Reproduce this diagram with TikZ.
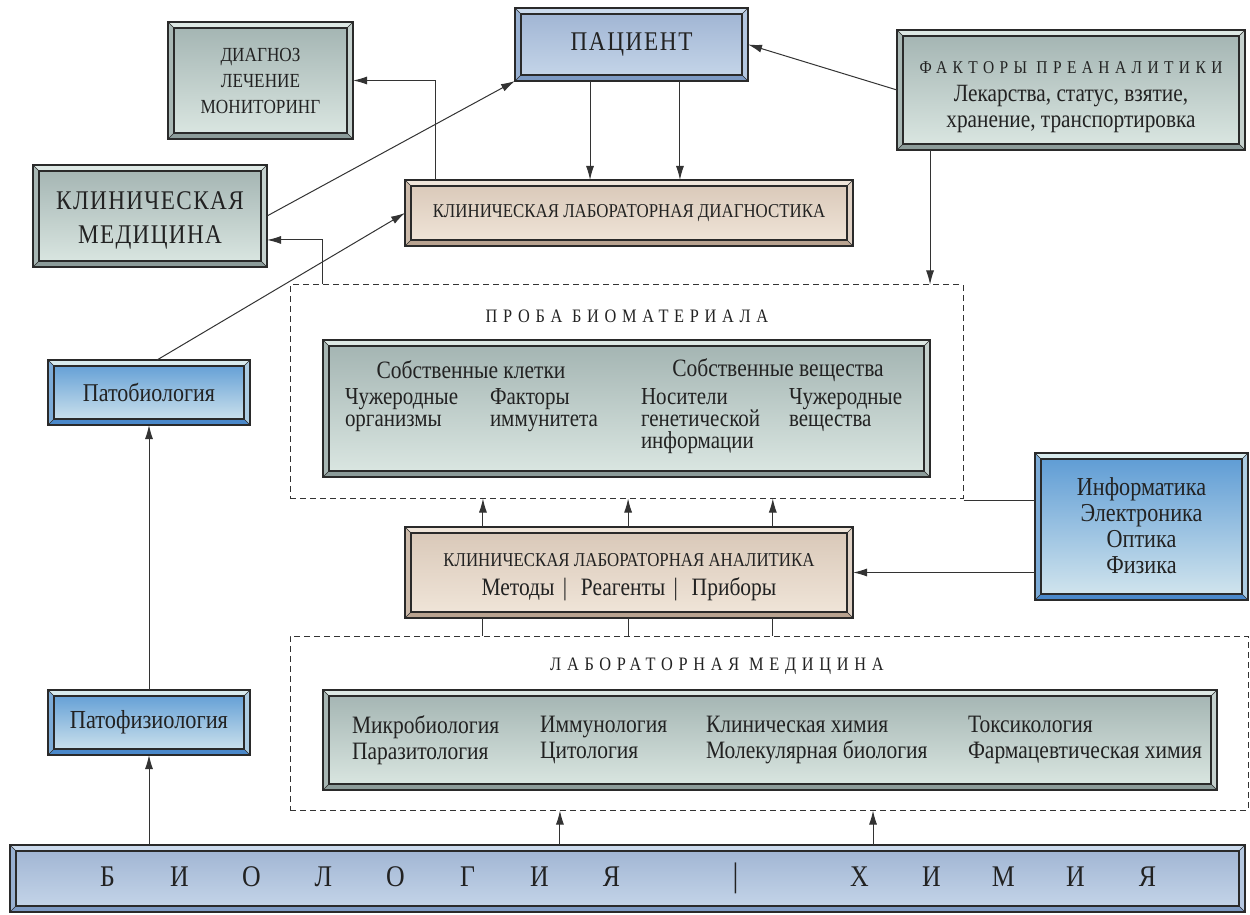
\documentclass[tikz,border=0pt]{standalone}
\usepackage{fontspec}
\setmainfont{Liberation Serif}[FakeStretch=0.86]
\usetikzlibrary{arrows.meta,calc,fit}

\definecolor{txt}{HTML}{222222}
\definecolor{ln}{HTML}{333333}
\definecolor{edge}{HTML}{2A2A2A}
% green theme
\definecolor{grT}{HTML}{A2B3B1}
\definecolor{grB}{HTML}{DCE8E3}
\definecolor{grL}{HTML}{DDE8E4}
\definecolor{grD}{HTML}{8C9C9A}
% blue theme
\definecolor{blT}{HTML}{5B9AD4}
\definecolor{blB}{HTML}{D5E7EE}
\definecolor{blL}{HTML}{D8EBEE}
\definecolor{blD}{HTML}{4A88CA}
% patient / base theme
\definecolor{paT}{HTML}{9EB3D2}
\definecolor{paB}{HTML}{C7D7EA}
\definecolor{paL}{HTML}{CBDAEC}
\definecolor{paD}{HTML}{7D9AC3}
% brown theme
\definecolor{brT}{HTML}{D8C7B7}
\definecolor{brB}{HTML}{F1E6DA}
\definecolor{brL}{HTML}{EFE5DA}
\definecolor{brD}{HTML}{B9A390}

\def\bw{6}
\newcommand\bbox[5][]{%
  \node[bx, fit={#4 #5}, top color=#3T, bottom color=#3B] (#2) {};
  \fill[#3L] (#2.north west) -- (#2.north east) -- ([shift={(-\bw,\bw)}]#2.north east) -- ([shift={(\bw,\bw)}]#2.north west) -- cycle;
  \fill[#3L!70!#3D] (#2.north east) -- (#2.south east) -- ([shift={(-\bw,-\bw)}]#2.south east) -- ([shift={(-\bw,\bw)}]#2.north east) -- cycle;
  \fill[#3L!35!#3D] (#2.north west) -- (#2.south west) -- ([shift={(\bw,-\bw)}]#2.south west) -- ([shift={(\bw,\bw)}]#2.north west) -- cycle;
  \fill[#3D] (#2.south west) -- (#2.south east) -- ([shift={(-\bw,-\bw)}]#2.south east) -- ([shift={(\bw,-\bw)}]#2.south west) -- cycle;
  \draw[edgeline] (#2.north west) rectangle (#2.south east);
  \draw[edgeline] ([shift={(\bw,\bw)}]#2.north west) rectangle ([shift={(-\bw,-\bw)}]#2.south east);
  \draw[edgeline, line width=0.3pt] (#2.north west) -- ([shift={(\bw,\bw)}]#2.north west)
     (#2.north east) -- ([shift={(-\bw,\bw)}]#2.north east)
     (#2.south west) -- ([shift={(\bw,-\bw)}]#2.south west)
     (#2.south east) -- ([shift={(-\bw,-\bw)}]#2.south east);
}
\newcommand\sletter[1]{\makebox[36pt]{#1}}
\newcommand\fs[2]{\fontsize{#1}{#2}\selectfont}

\tikzset{
  bx/.style={inner sep=0pt, outer sep=0pt, align=center, text=txt},
  edgeline/.style={draw=edge, line width=0.6pt},
  lbl/.style={inner sep=0pt, outer sep=0pt, text=txt},
  arr/.style={draw=ln, line width=0.5pt, -{Latex[length=7pt,width=4pt]}},
  plain/.style={draw=ln, line width=0.5pt},
  dbox/.style={draw=ln, line width=0.5pt, dash pattern=on 3pt off 2pt},
  title/.style={lbl, font=\fs{9.5}{11}\addfontfeatures{LetterSpace=30}},
  inner/.style={lbl, anchor=north west, align=left, font=\fs{12.2}{11}},
  labtxt/.style={lbl, anchor=north west, align=left, font=\fs{12.5}{13}},
}

\begin{document}
\begin{tikzpicture}[x=0.5pt, y=-0.5pt]
\useasboundingbox (0,0) rectangle (1250,915);

% dashed containers
\node[dbox, fit={(290,285) (963,498)}, inner sep=0pt] (probe) {};
\node[dbox, fit={(290,636) (1248,810)}, inner sep=0pt] (labmed) {};

\node[title] (probet) at (627,316) {ПРОБА БИОМАТЕРИАЛА};
\node[title] (labmedt) at (717,666) {ЛАБОРАТОРНАЯ МЕДИЦИНА};

% boxes
\bbox{pat}{pa}{(515,8)}{(748,81)}
\node[bx, font=\fs{13.5}{16}\addfontfeatures{LetterSpace=6}] (pat-t) at (pat.center) {ПАЦИЕНТ};
\bbox{diag}{gr}{(168,22)}{(353,139)}
\node[bx, font=\fs{10}{13}] (diag-t) at (diag.center) {ДИАГНОЗ\\ЛЕЧЕНИЕ\\МОНИТОРИНГ};
\bbox{fact}{gr}{(897,30)}{(1245,150)}
\node[bx, font=\fs{12.4}{13}] (fact-t) at ([yshift=-3.5pt]fact.center) {{\fs{9}{14}\addfontfeatures{LetterSpace=30}ФАКТОРЫ ПРЕАНАЛИТИКИ}\\[1pt]Лекарства, статус, взятие,\\хранение, транспортировка};
\bbox{klmed}{gr}{(33,165)}{(267,267)}
\node[bx, font=\fs{13.5}{17}\addfontfeatures{LetterSpace=5}] (klmed-t) at ([yshift=-2pt]klmed.center) {КЛИНИЧЕСКАЯ\\МЕДИЦИНА};
\bbox{kld}{br}{(405,180)}{(853,246)}
\node[bx, font=\fs{9.8}{11}] (kld-t) at (kld.center) {КЛИНИЧЕСКАЯ ЛАБОРАТОРНАЯ ДИАГНОСТИКА};
\bbox{probein}{gr}{(323,340)}{(930,477)}
\bbox{patbio}{bl}{(48,360)}{(250,425)}
\node[bx, font=\fs{12.8}{14}] (patbio-t) at (patbio.center) {Патобиология};
\bbox{kla}{br}{(405,527)}{(853,618)}
\node[bx, font=\fs{12.5}{14.5}] (kla-t) at ([yshift=-2.5pt]kla.center) {{\fs{9.8}{14.5}КЛИНИЧЕСКАЯ ЛАБОРАТОРНАЯ АНАЛИТИКА}\\Методы\,\,|\,\, Реагенты\,\,|\,\, Приборы};
\bbox{inf}{bl}{(1035,453)}{(1248,600)}
\node[bx, font=\fs{12.9}{13}] (inf-t) at ([yshift=0.5pt]inf.center) {Информатика\\Электроника\\Оптика\\Физика};
\bbox{labin}{gr}{(323,690)}{(1217,790)}
\bbox{patfiz}{bl}{(48,690)}{(250,755)}
\node[bx, font=\fs{13}{14}] (patfiz-t) at (patfiz.center) {Патофизиология};
\bbox{bio}{pa}{(10,845)}{(1245,912)}
\node[bx, font=\fs{15}{18}] (bio-t) at (bio.center) {\sletter{Б}\sletter{И}\sletter{О}\sletter{Л}\sletter{О}\sletter{Г}\sletter{И}\sletter{Я}\makebox[88pt]{\fs{17}{18}|}\sletter{Х}\sletter{И}\sletter{М}\sletter{И}\sletter{Я}};

% texts inside the sample box
\node[lbl, font=\fs{12.5}{13}] (own1) at (471,370) {Собственные клетки};
\node[lbl, font=\fs{12.5}{13}] (own2) at (778,370) {Собственные вещества};
\node[inner] (c1) at (345,389) {Чужеродные\\организмы};
\node[inner] (c2) at (490,389) {Факторы\\иммунитета};
\node[inner] (c3) at (641,389) {Носители\\генетической\\информации};
\node[inner] (c4) at (789,389) {Чужеродные\\вещества};

% texts inside the laboratory medicine box
\node[labtxt] (m1) at (352,716) {Микробиология\\Паразитология};
\node[labtxt] (m2) at (540,716) {Иммунология\\Цитология};
\node[labtxt] (m3) at (706,716) {Клиническая химия\\Молекулярная биология};
\node[labtxt] (m4) at (968,716) {Токсикология\\Фармацевтическая химия};

% connectors
\coordinate (p1) at ($(pat.south west)!0.322!(pat.south east)$);
\coordinate (p2) at ($(pat.south west)!0.708!(pat.south east)$);
\draw[arr] (p1) -- (p1 |- kld.north);
\draw[arr] (p2) -- (p2 |- kld.north);

\coordinate (k1) at ($(kld.north west)!0.067!(kld.north east)$);
\draw[arr] (k1) |- (diag.east);

\draw[arr] (klmed.east) -- (pat.south west);

\coordinate (pr1) at ($(probe.north west)!0.049!(probe.north east)$);
\coordinate (km1) at ($(klmed.north east)!0.735!(klmed.south east)$);
\draw[arr] (pr1) |- (km1);

\coordinate (pb1) at ($(patbio.north)+(8,0)$);
\draw[arr] (pb1) -- (kld.west);

\draw[arr] (fact.west) -- (pat.east);

\coordinate (f1) at ($(fact.south west)!0.095!(fact.south east)$);
\draw[arr] (f1) -- (f1 |- probe.north);

\foreach \fr/\nm in {0.174/a, 0.498/b, 0.821/c}{
  \coordinate (kt\nm) at ($(kla.north west)!\fr!(kla.north east)$);
  \coordinate (kb\nm) at ($(kla.south west)!\fr!(kla.south east)$);
  \draw[arr] (kt\nm) -- (kt\nm |- probe.south);
  \draw[plain] (kb\nm) -- (kb\nm |- labmed.north);
}

\draw[arr] (kla.east -| inf.west) -- (kla.east);
\draw[plain] ([yshift=-1pt]probe.south east) -- ([yshift=-1pt]probe.south east -| inf.west);

\coordinate (b1) at ($(bio.north west)!0.4453!(bio.north east)$);
\coordinate (b2) at ($(bio.north west)!0.6988!(bio.north east)$);
\draw[arr] (b1) -- (b1 |- labmed.south);
\draw[arr] (b2) -- (b2 |- labmed.south);

\draw[arr] (patfiz.south |- bio.north) -- (patfiz.south);
\draw[arr] (patfiz.north) -- (patbio.south);
\end{tikzpicture}
\end{document}
